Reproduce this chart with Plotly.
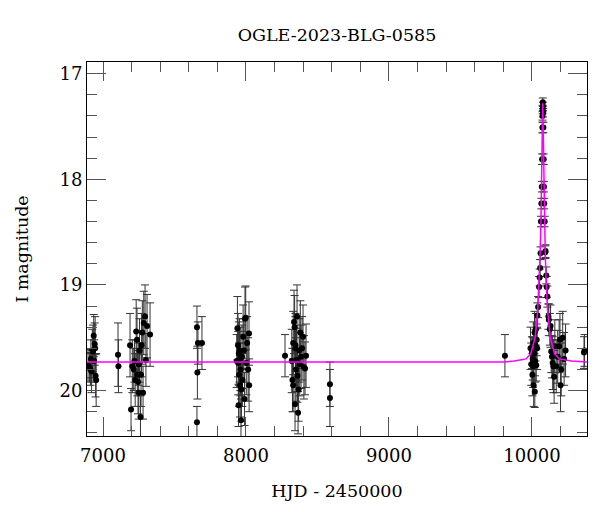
import plotly.graph_objects as go

# ---- data ----
obs_hjd = [
    6895, 6905, 6912, 6915, 6920, 6925, 6930, 6935, 6938, 6942, 6945, 6948, 6952,
    7105, 7108,
    7189, 7196, 7205, 7215, 7220, 7225, 7232, 7238, 7240, 7245, 7250, 7250, 7255, 7262,
    7266, 7270, 7275, 7280, 7285, 7294, 7300, 7308, 7329,
    7657, 7660, 7664, 7692, 7657,
    7935, 7940, 7944, 7946, 7948, 7950, 7952, 7955, 7958, 7960, 7962, 7965, 7968, 7972,
    7975, 7980, 7985, 7990, 7993, 7998, 8002, 8008, 8015, 8021, 8022,
    8273, 8320, 8325, 8330, 8330, 8336, 8340, 8343, 8345, 8346, 8350, 8353, 8357, 8360,
    8364, 8368, 8372, 8376, 8380, 8385, 8392, 8399, 8405, 8413, 8420,
    8587, 8587,
    9811,
    9990, 9995, 10000, 10003, 10005, 10008, 10010, 10012, 10015, 10018, 10020, 10022,
    10025, 10028, 10030, 10033, 10036,
    10038, 10043, 10050, 10054, 10057, 10060, 10063, 10066, 10069, 10071, 10073, 10074,
    10075, 10076, 10077, 10078, 10080, 10082, 10084, 10086, 10089, 10093, 10095, 10100,
    10103, 10108, 10115, 10118, 10125, 10130, 10135, 10140, 10145, 10150, 10155, 10160,
    10170, 10180, 10190, 10196, 10200, 10205, 10215, 10225, 10235,
    10364, 10368,
]
obs_mag = [
    19.76, 19.78, 19.80, 19.70, 19.82, 19.62, 19.63, 19.48, 19.72, 19.56, 19.60, 19.86, 19.90,
    19.66, 19.77,
    19.57, 20.18, 19.77, 19.80, 19.72, 19.90, 19.44, 19.52, 19.85, 19.92, 20.02, 19.75, 19.62, 20.25,
    19.85, 19.57, 19.45, 20.02, 19.36, 19.30, 19.71, 19.39, 19.47,
    19.40, 19.83, 19.55, 19.55, 20.30,
    19.72, 19.41, 19.57, 19.74, 20.14, 19.65, 19.85, 19.62, 19.95, 19.70, 19.80, 20.28, 19.99, 19.68,
    19.90, 19.49, 19.62, 20.08, 19.32, 19.31, 19.74, 19.55, 19.80, 19.46, 19.95,
    19.67, 19.72, 19.90, 19.55, 19.95, 19.35, 19.40, 20.13, 19.60, 19.57, 19.80, 19.71, 19.30, 19.86,
    20.21, 19.99, 19.62, 19.75, 19.45, 19.68, 19.60, 19.49, 19.78, 19.79, 19.67,
    19.94, 20.07,
    19.67,
    19.60, 19.75, 19.64, 19.85, 19.70, 19.77, 19.55, 19.95, 19.65, 19.45, 20.01, 19.72,
    19.57, 19.42, 19.76, 19.52, 19.60,
    19.29, 19.21, 19.02, 18.93, 18.84, 18.70, 18.40, 18.23, 18.07, 17.81, 17.51, 17.40,
    17.34, 17.27, 17.31, 17.37, 17.51, 17.81, 18.07, 18.23, 18.40, 18.69, 18.68, 18.91,
    19.02, 19.11, 19.30, 19.33, 19.42, 19.39, 19.63, 19.68, 19.74, 19.77, 19.87, 19.58,
    19.77, 19.68, 19.58, 19.52, 19.95, 19.80, 19.50, 19.70, 19.62,
    19.64, 19.62,
]
obs_err = [
    0.15, 0.14, 0.15, 0.18, 0.20, 0.20, 0.25, 0.20, 0.20, 0.20, 0.30, 0.20, 0.25,
    0.30, 0.25,
    0.30, 0.20, 0.25, 0.20, 0.20, 0.25, 0.30, 0.30, 0.20, 0.30, 0.25, 0.20, 0.30, 0.20,
    0.30, 0.30, 0.30, 0.25, 0.30, 0.30, 0.25, 0.30, 0.30,
    0.20, 0.25, 0.20, 0.25, 0.15,
    0.25, 0.30, 0.30, 0.30, 0.20, 0.30, 0.30, 0.30, 0.30, 0.30, 0.25, 0.20, 0.30, 0.30,
    0.25, 0.30, 0.30, 0.25, 0.30, 0.30, 0.30, 0.25, 0.30, 0.30, 0.25,
    0.20, 0.30, 0.30, 0.30, 0.25, 0.30, 0.30, 0.25, 0.30, 0.30, 0.30, 0.30, 0.30, 0.25,
    0.20, 0.30, 0.30, 0.30, 0.30, 0.30, 0.30, 0.30, 0.30, 0.25, 0.30,
    0.21, 0.27,
    0.20,
    0.20, 0.20, 0.15, 0.20, 0.20, 0.20, 0.20, 0.20, 0.15, 0.20, 0.15, 0.20,
    0.15, 0.15, 0.15, 0.15, 0.20,
    0.12, 0.10, 0.10, 0.08, 0.08, 0.06, 0.05, 0.05, 0.05, 0.05, 0.05, 0.04,
    0.04, 0.04, 0.04, 0.04, 0.05, 0.05, 0.05, 0.05, 0.05, 0.06, 0.06, 0.08,
    0.10, 0.10, 0.12, 0.15, 0.15, 0.20, 0.20, 0.20, 0.25, 0.25, 0.25, 0.25,
    0.25, 0.25, 0.25, 0.25, 0.25, 0.25, 0.25, 0.25, 0.25,
    0.15, 0.15,
]

# model curve points
model_hjd = [6880, 9800, 9875, 9959, 9992, 10022, 10040, 10050, 10057, 10063, 10067,
             10071.7, 10073.5, 10075, 10076.5, 10078.3, 10083, 10087, 10093, 10100,
             10110, 10128, 10158, 10191, 10275, 10400]
model_mag = [19.73, 19.73, 19.72, 19.70, 19.65, 19.50, 19.25, 19.00, 18.70, 18.40, 18.00,
             17.50, 17.35, 17.28, 17.35, 17.50, 18.00, 18.40, 18.70, 19.00,
             19.25, 19.50, 19.65, 19.70, 19.72, 19.73]

x_tickvals = [7000, 8000, 9000, 10000]
x_ticktext = ["7000", "8000", "9000", "10000"]
y_tickvals = [17, 18, 19, 20]
y_ticktext = ["17", "18", "19", "20"]

title_text = "OGLE-2023-BLG-0585"
x_label = "HJD - 2450000"
y_label = "I magnitude"

FONT = "DejaVu Serif"

fig = go.Figure()
fig.add_trace(go.Scatter(
    x=obs_hjd, y=obs_mag, mode="markers",
    marker=dict(color="black", size=6),
    error_y=dict(type="data", array=obs_err, color="#333333", thickness=1, width=4),
    showlegend=False,
))
fig.add_trace(go.Scatter(
    x=model_hjd, y=model_mag, mode="lines",
    line=dict(color="#ff00ff", width=1.5),
    showlegend=False,
))

axis_common = dict(
    showline=True, linecolor="black", linewidth=1, mirror="allticks",
    ticks="inside", ticklen=19, tickcolor="#555555", tickwidth=1,
    showgrid=False, zeroline=False,
    tickfont=dict(family=FONT, size=18, color="black"),
)

# page body has an 8px margin, so the figure is 592x504 to fill the 600x512 window
W, H = 592, 504
fig.update_layout(
    width=W, height=H,
    margin=dict(l=79, r=13, t=54, b=76),
    paper_bgcolor="white", plot_bgcolor="white",
    title=dict(text=title_text, x=329 / W, xanchor="center", y=1 - 27 / H, yanchor="middle",
               font=dict(family=FONT, size=17.5, color="black")),
    xaxis=dict(range=[6888, 10385], tickvals=x_tickvals, ticktext=x_ticktext,
               ticklabelstandoff=3,
               minor=dict(dtick=200, tick0=0, ticks="inside", ticklen=10, tickcolor="#555555"),
               title=dict(text=x_label, font=dict(family=FONT, size=17.5, color="black"), standoff=20),
               **axis_common),
    yaxis=dict(range=[20.43, 16.89], tickvals=y_tickvals, ticktext=y_ticktext,
               minor=dict(dtick=0.2, tick0=0, ticks="inside", ticklen=10, tickcolor="#555555"),
               title=dict(text=y_label, font=dict(family=FONT, size=17.5, color="black"), standoff=26),
               **axis_common),
)

fig.write_html("out.html")
